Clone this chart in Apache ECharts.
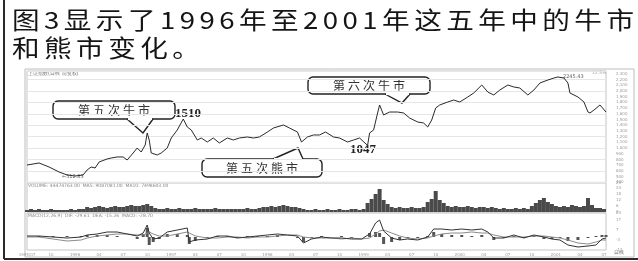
<!DOCTYPE html>
<html><head><meta charset="utf-8">
<script src="https://cdn.jsdelivr.net/npm/echarts@6/dist/echarts.min.js"></script>
<style>html,body{margin:0;padding:0;background:#fff}#c{width:638px;height:261px}</style>
</head><body><div id="c"></div>
<script>
// ---------- text ----------
const titleLines = ['图3显示了1996年至2001年这五年中的牛市', '和熊市变化。'];
const calloutTexts = ['第五次牛市', '第五次熊市', '第六次牛市'];
const peakLabels = ['1510', '1047', '2245.43', '←512.83'];
const panelTitles = ['上证指数(日线 前复权)', 'VOLUME: 44474763.00  MA5: 9087081.00  MA10: 7498603.00', 'MACD(12,26,9)  DIF: -29.61  DEA: -15.26  MACD: -28.70'];
const xTickLabels = ['1995/07','10','1996','04','07','10','1997','04','07','10','1998','04','07','10','1999','04','07','10','2000','04','07','10','2001','04','07'];

// ---------- data (x = week index) ----------
const priceWeeks = [0,6,11,16,20, 24,28,30,32,34, 36,40,42,45,48, 50,53,55,57,59, 60,61,62,65,67, 70,72,75,78,80,
  82,85,87,90,93, 96,100,103,106,110, 113,116,120,123,128, 131,135,137,140,143, 146,149,153,156,160, 163,166,170,171,173,
  175,176,178,181,185, 188,191,195,198,200, 202,204,206,210,213, 216,220,223,227,230, 233,236,240,243,246, 250,253,256,260,263,
  265,268,270,271,275, 278,280,281,283,286, 289];
const priceValues = [704,740,670,582,530, 512,530,617,670,652, 757,810,827,845,845, 792,915,1002,932,1055, 1265,1142,915,880,915, 1002,1177,1317,1510,1370,
  1317,1142,1177,1107,1177, 1090,1177,1142,1177,1195, 1177,1195,1282,1352,1405, 1352,1282,1107,1195,1230, 1230,1282,1195,1177,1107, 1142,1177,1047,1265,1317,
  1615,1755,1580,1632,1632, 1615,1527,1457,1440,1370, 1492,1702,1755,1807,1842, 1807,1895,1965,2105,1982, 1930,2017,2105,2070,2052, 1930,2017,2140,2192,2227,
  2245,2227,2140,1965,1895, 1807,1632,1615,1667,1755, 1632];

const volumeStep = 2; // one bar every 2 weeks, from week 0
const volumeValues = [2,3,2,3,2,2,3,2, 2,2,2,3,2,3,3, 5,4,5,6,5,4,5,6,5,5,6,7,6,6,7, 8,6,4,
  3,3,4,3,3,4,3,3,3,4,3,3,3,3,4,3,3,3,3,3,3,3,4,3,3, 4,5,5,6,5,6,7,6,5,5,4,
  3,2,2,3,2,2,3,2,2,3,2,2,3,3,2,3, 9,13,18,23,12,8, 5,4,5,4,4,5,4,4,5, 10,13,21,12,9,
  6,5,6,5,5,6,5,4,5,5,4,5,4, 3,4,3,3,4,3,4,3, 6,9,12,14,10,8, 6,5,6,5,7,6,5,6, 14,7, 4,4,3];

const macdWeeks = [0,6,13,20,27, 30,35,40,45,50, 55,58,60,61,63, 66,70,75,80,81, 84,90,95,100,105, 110,115,120,125,130,
  135,138,142,147,152, 157,162,167,171,174, 176,178,182,186,190, 195,200,203,207,212, 217,222,227,230,233, 238,243,248,253,258,
  262,266,270,275,280, 284,287,289];
const difValues = [1,1,0,-1,0, 2,3,5,5,3, 1,4,12,4,-2, -1,5,7,9,-5, -3,-2,1,1,-1, 0,1,2,3,2,
  1,-6,-2,0,-1, -1,-2,-2,3,14, 17,6,-1,-3,-2, -3,0,8,8,7, 8,7,8,5,-1, -1,2,-1,2,0,
  -2,-3,-8,-10,-9, -8,-2,-1];
const deaValues = [0,0,-2,-4,-3, -1,1,2,3,3, 2,2,4,5,3, 1,1,3,5,4, 1,-1,-1,0,0, -1,0,0,1,2,
  2,0,-1,-1,-1, -2,-1,-2,-1,3, 6,7,4,1,-1, -2,-1,1,3,4, 4,5,4,4,2, 0,0,0,1,1,
  0,-1,-3,-6,-7, -5,-3,-3];
const histValues = [0,1,1,1,1, 2,2,2,1,0, -2,3,9,-8,-5, -2,3,3,2,-7, -4,-1,1,1,-1, 1,1,1,2,0,
  -1,-5,-1,1,0, 1,-1,0,4,5, 4,-7,-5,-3,-1, -1,1,5,3,2, 2,1,2,0,-3, -1,1,-1,1,-2,
  -2,-1,-4,-3,-1, 1,2,2];

// ---------- helpers ----------
const zip = (xs, ys) => xs.map((x, i) => [x, ys[i]]);
const mctx = document.createElement('canvas').getContext('2d');
function measure(t, font) { mctx.font = font; return mctx.measureText(t).width; }
function spacedText(str, left, cy, font, spacing, fill, sx) {
  sx = sx || 1;
  const els = []; let cx = left;
  for (const ch of str) {
    els.push({ type: 'text', x: cx, y: cy, scaleX: sx, silent: true,
      style: { text: ch, font: font, fill: fill, textVerticalAlign: 'middle', verticalAlign: 'middle' } });
    cx += measure(ch, font) * sx + spacing;
  }
  return els;
}
function spacedWidth(str, font, spacing) {
  let w = 0; const chars = [...str];
  chars.forEach(ch => w += measure(ch, font));
  return w + spacing * (chars.length - 1);
}
function callout(box, pointer, text) {
  const font = '12px "Noto Sans CJK SC"';
  const sp = 3;
  const w = spacedWidth(text, font, sp);
  const els = [
    { type: 'rect', silent: true, shape: { x: box[0], y: box[1], width: box[2], height: box[3], r: 5 },
      style: { fill: '#fff', stroke: '#222', lineWidth: 1.4 } },
    { type: 'polyline', silent: true, shape: { points: pointer },
      style: { fill: '#fff', stroke: '#222', lineWidth: 1.4 } },
    { type: 'line', silent: true, shape: { x1: pointer[0][0] + 1, y1: pointer[0][1], x2: pointer[2][0] - 1, y2: pointer[2][1] },
      style: { stroke: '#fff', lineWidth: 2.2 } }
  ];
  return els.concat(spacedText(text, box[0] + box[2] / 2 - w / 2, box[1] + box[3] / 2, font, sp, '#333'));
}

// title: slightly widened glyphs, letter-spaced to span the page width
const titleFont = '24px "Noto Sans CJK SC"';
const titleSX = 1.15;
const titleChars = [...titleLines[0]].length;
const titleSpacing = (622 - measure(titleLines[0], titleFont) * titleSX) / (titleChars - 1);

const tiny = (text, x, y, size, fill) => ({ type: 'text', x, y, silent: true,
  style: { text, font: size + 'px "DejaVu Sans"', fill: fill || '#8a8a8a', textVerticalAlign: 'middle', verticalAlign: 'middle' } });

const graphics = [].concat(
  spacedText(titleLines[0], 12, 20, titleFont, titleSpacing, '#151515', titleSX),
  spacedText(titleLines[1], 12, 48, titleFont, titleSpacing, '#151515', titleSX),
  [
    { type: 'rect', silent: true, shape: { x: 25, y: 69, width: 609, height: 188 }, style: { fill: 'none', stroke: '#bdbdbd', lineWidth: 1 } },
    { type: 'line', silent: true, shape: { x1: 4, y1: 0, x2: 4, y2: 259 }, style: { stroke: '#2a2a2a', lineWidth: 2 } },
    { type: 'line', silent: true, shape: { x1: 4, y1: 259, x2: 638, y2: 259 }, style: { stroke: '#2a2a2a', lineWidth: 2 } },
    tiny(panelTitles[0], 28, 74, 5, '#777'),
    tiny(panelTitles[1], 28, 186, 4.5, '#888'),
    tiny(panelTitles[2], 28, 216, 4.5, '#888'),
    tiny('12.5%', 592, 73, 4.5, '#999'),
    tiny('日线', 614, 253, 5, '#666'),
    { type: 'text', x: 175, y: 114, silent: true, style: { text: peakLabels[0], font: 'bold 13px "Liberation Serif"', fill: '#222', textVerticalAlign: 'middle', verticalAlign: 'middle' } },
    { type: 'text', x: 350, y: 150, silent: true, style: { text: peakLabels[1], font: 'bold 13px "Liberation Serif"', fill: '#222', textVerticalAlign: 'middle', verticalAlign: 'middle' } },
    tiny(peakLabels[2], 563, 77, 5, '#666'),
    tiny(peakLabels[3], 62, 177, 5, '#666')
  ],
  callout([53, 101, 122, 18], [[127, 119], [143, 133], [153, 119]], calloutTexts[0]),
  callout([202, 159, 120, 18], [[273, 159], [298, 148], [303, 159]], calloutTexts[1]),
  callout([308, 77, 122, 17], [[385, 94], [402, 103], [410, 94]], calloutTexts[2])
);

const hiddenX = (gi) => ({ type: 'value', gridIndex: gi, min: 0, max: 289, show: false });
const tinyLabel = { fontSize: 4, color: '#9a9a9a', margin: 10, fontFamily: 'DejaVu Sans' };

const chart = echarts.init(document.getElementById('c'), null, { renderer: 'canvas' });
chart.setOption({
  animation: false,
  backgroundColor: '#fff',
  grid: [
    { left: 27, right: 32, top: 71, height: 111.4, show: true, borderColor: '#c4c4c4', borderWidth: 1 },
    { left: 27, right: 32, top: 183, height: 29, show: true, borderColor: '#c4c4c4', borderWidth: 1 },
    { left: 27, right: 32, top: 213, height: 37, show: true, borderColor: '#c4c4c4', borderWidth: 1 }
  ],
  xAxis: [
    hiddenX(0), hiddenX(1),
    { type: 'value', gridIndex: 2, min: 0, max: 289, interval: 12,
      axisLine: { show: false }, axisTick: { show: false }, splitLine: { show: false },
      axisLabel: { fontSize: 4, color: '#9a9a9a', margin: 3, fontFamily: 'DejaVu Sans',
        formatter: v => xTickLabels[Math.round(v / 12)] || '' } }
  ],
  yAxis: [
    { type: 'value', gridIndex: 0, position: 'right', min: 400, max: 2350, interval: 100,
      axisLine: { show: false }, axisTick: { show: false }, splitLine: { show: false }, axisLabel: tinyLabel },
    { type: 'value', gridIndex: 0, position: 'left', min: 400, max: 2350, interval: 200,
      axisLine: { show: false }, axisTick: { show: false }, axisLabel: { show: false },
      splitLine: { show: true, lineStyle: { color: '#e6e6e6', width: 1 } } },
    { type: 'value', gridIndex: 1, position: 'right', min: 0, max: 29, interval: 6,
      axisLine: { show: false }, axisTick: { show: false }, splitLine: { show: false }, axisLabel: tinyLabel },
    { type: 'value', gridIndex: 2, position: 'right', min: -13, max: 24, interval: 10,
      axisLine: { show: false }, axisTick: { show: false }, axisLabel: tinyLabel,
      splitLine: { show: false } }
  ],
  series: [
    { type: 'line', xAxisIndex: 0, yAxisIndex: 0, data: zip(priceWeeks, priceValues), symbol: 'none', silent: true,
      lineStyle: { color: '#2a2a2a', width: 1 } },
    { type: 'bar', xAxisIndex: 1, yAxisIndex: 2, data: volumeValues.map((v, i) => [i * volumeStep, v]), barWidth: 4, silent: true,
      itemStyle: { color: '#4a4a4a' } },
    { type: 'bar', xAxisIndex: 2, yAxisIndex: 3, data: zip(macdWeeks, histValues), barWidth: 3, silent: true,
      itemStyle: { color: '#555' } },
    { type: 'line', xAxisIndex: 2, yAxisIndex: 3, data: zip(macdWeeks, deaValues), symbol: 'none', silent: true,
      lineStyle: { color: '#8c8c8c', width: 1 } },
    { type: 'line', xAxisIndex: 2, yAxisIndex: 3, data: zip(macdWeeks, difValues), symbol: 'none', silent: true,
      lineStyle: { color: '#333', width: 1 } }
  ],
  graphic: { elements: graphics }
});
</script>
</body></html>
